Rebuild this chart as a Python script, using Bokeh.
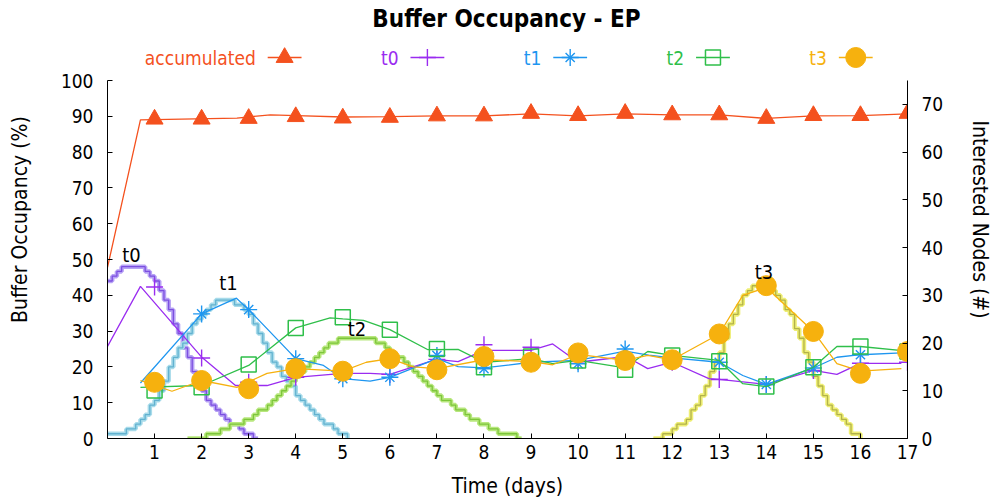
from bokeh.plotting import figure
from bokeh.models import Range1d, LinearAxis, FixedTicker
from bokeh.core.properties import value
from bokeh.embed import file_html
from bokeh.resources import INLINE

# ---------------- data ----------------
days = list(range(1, 18))
x_ticks = list(range(1, 18))
left_ticks = list(range(0, 101, 10))
right_ticks = list(range(0, 71, 10))

# markers (daily values, % buffer occupancy)
acc_marks = [89.2, 89.2, 89.4, 89.9, 89.5, 89.7, 90.1, 90.1, 90.8, 90.2, 90.8, 90.4, 90.4, 89.4, 90.2, 90.2, 90.8]
t0_marks = [42.3, 22.5, 15.7, 17.1, 18.3, 17.9, 22.1, 26.2, 25.5, 21.5, 22.5, 21.3, 16.5, 15.1, 19.0, 21.0, 21.3]
t1_marks = [15.5, 34.8, 36.0, 22.3, 16.7, 17.1, 23.2, 19.5, 21.3, 20.9, 25.0, 21.5, 21.3, 15.1, 19.7, 23.4, 24.3]
t2_marks = [13.4, 14.3, 20.7, 30.9, 33.9, 30.4, 25.0, 19.9, 22.9, 21.8, 19.2, 23.2, 21.6, 14.5, 19.9, 25.7, 24.3]
t3_marks = [15.7, 16.2, 13.9, 19.5, 18.8, 22.3, 19.2, 22.9, 21.3, 23.9, 21.8, 22.0, 29.2, 42.7, 29.9, 18.2, 24.3]

# lines (sampled series, % buffer occupancy)
acc_line_x = [0, 0.70, 2.75, 3.46, 4.02, 5.0, 6.0, 7.0, 8.0, 9.0, 10.0, 11.0, 12.0, 13.0, 14.0, 15.0, 16.0, 17.0]
acc_line_y = [47.8, 89.0, 89.5, 90.4, 90.2, 89.8, 89.9, 90.1, 90.1, 90.7, 90.1, 90.7, 90.4, 90.4, 89.4, 90.1, 90.2, 90.7]

t0_line_x = [0, 0.70, 2.01, 2.72, 3.39, 4.0, 5.0, 5.58, 6.0, 6.99, 7.45, 8.0, 9.0, 9.46, 10.0, 11.02, 11.48, 12.0, 12.78, 13.0, 14.0, 15.0, 15.5, 16.0, 16.87]
t0_line_y = [25.7, 42.5, 22.6, 14.8, 14.8, 17.1, 18.2, 18.2, 17.9, 22.1, 21.5, 24.6, 24.6, 26.4, 21.3, 22.9, 19.5, 21.3, 16.7, 16.5, 15.1, 19.0, 17.9, 21.0, 21.0]

t1_line_x = [0.70, 2.0, 2.74, 3.0, 4.0, 4.59, 5.0, 5.58, 6.0, 7.0, 7.45, 8.0, 9.0, 10.0, 11.0, 11.5, 12.0, 13.0, 13.5, 14.0, 15.0, 15.5, 16.0, 16.87]
t1_line_y = [15.5, 34.8, 39.2, 36.0, 22.3, 20.4, 16.7, 16.0, 17.1, 22.3, 20.1, 19.7, 21.3, 21.8, 24.4, 23.3, 22.5, 21.3, 17.6, 15.1, 19.7, 22.7, 23.4, 23.9]

t2_line_x = [0.70, 2.0, 3.0, 4.0, 4.73, 5.0, 5.44, 6.0, 6.81, 7.45, 8.0, 9.0, 9.46, 10.0, 11.0, 11.48, 12.0, 13.0, 13.5, 14.0, 15.0, 15.5, 16.0, 17.0]
t2_line_y = [14.3, 14.8, 20.4, 30.9, 33.7, 33.4, 33.0, 30.4, 24.8, 24.9, 21.3, 22.3, 20.9, 21.8, 19.7, 24.3, 23.2, 21.8, 15.3, 14.5, 19.9, 25.7, 25.7, 24.4]

t3_line_x = [0.70, 1.37, 2.0, 2.75, 3.39, 4.0, 5.0, 5.5, 6.0, 6.5, 7.0, 8.0, 9.0, 9.46, 10.0, 11.0, 11.48, 12.0, 13.0, 13.5, 14.0, 15.0, 15.5, 16.0, 16.87]
t3_line_y = [16.2, 13.2, 16.2, 14.3, 18.2, 19.5, 18.8, 21.3, 22.3, 20.0, 19.5, 22.0, 21.5, 20.6, 23.5, 21.8, 23.2, 22.0, 29.2, 40.0, 42.2, 29.9, 20.9, 18.8, 19.5]

# interested nodes (#), staircase counts every 0.1 day from a start day
step_dt = 0.1
t0_nodes_start = 0.0
t0_nodes = [33, 34, 35, 36, 36, 36, 36, 36, 35, 34, 33, 31, 29, 27, 24, 22, 19, 17, 14, 12,
            10, 8, 7, 6, 5, 4, 3, 3, 2, 1, 1, 0, 0]
t1_nodes_start = 0.0
t1_nodes = [1, 1, 1, 1, 2, 2, 3, 4, 5, 7, 8, 10, 12, 15, 17, 19, 20, 22, 24, 25,
            26, 27, 28, 29, 29, 29, 29, 28, 28, 27, 26, 24, 22, 20, 18, 16, 15, 13, 12, 11,
            9, 8, 7, 6, 5, 4, 3, 3, 2, 1, 1, 0]
t2_nodes_start = 1.7
t2_nodes = [0, 0, 0, 0, 1, 1, 1, 2, 2, 3, 3, 3, 4, 4, 5, 6, 6, 7, 8, 9,
            10, 11, 12, 13, 14, 15, 16, 17, 18, 19, 20, 20, 21, 21, 21, 21, 21, 21, 21, 21,
            20, 20, 19, 18, 17, 17, 16, 15, 14, 13, 12, 11, 10, 9, 8, 8, 7, 6, 6, 5,
            4, 4, 3, 3, 2, 2, 1, 1, 1, 1, 0, 0]
t3_nodes_start = 11.6
t3_nodes = [0, 0, 1, 1, 2, 3, 3, 4, 6, 7, 9, 11, 14, 16, 18, 21, 24, 26, 28, 30,
            31, 32, 32, 32, 32, 31, 30, 29, 27, 26, 23, 21, 18, 16, 13, 11, 9, 7, 6, 5,
            4, 3, 1, 1, 0]

peak_labels = ["t0", "t1", "t2", "t3"]
peak_label_x = [0.51, 2.57, 5.30, 13.95]
peak_label_y = [38.5, 32.5, 23.0, 34.8]  # right axis units

series_names = ["accumulated", "t0", "t1", "t2", "t3"]

# ---------------- styling ----------------
FONT = "DejaVu Sans Condensed"
C_ACC = "#f4511e"
C_T0 = "#9a2cf0"
C_T1 = "#1e96f0"
C_T2 = "#2fbf4a"
C_T3 = "#f6b10e"
STEP_LIGHT = ["#b7a2f5", "#a8dbea", "#b8e77e", "#eeee74"]
STEP_DARK = ["#7c4fe0", "#62b2d0", "#7cc63a", "#b2b24a"]

W, H = 995, 503
FL, FR, FB, FT = 107, 84, 65, 0
frame_w = W - FL - FR
frame_h = H - FB - FT
X_MAX = 17.0
PX_PER_PCT = 3.58
PX_PER_NODE = 4.773
Y_TOP = frame_h / PX_PER_PCT
Y2_TOP = frame_h / PX_PER_NODE

p = figure(width=W, height=H, output_backend="svg", toolbar_location=None,
           x_range=Range1d(0, X_MAX), y_range=Range1d(0, Y_TOP),
           min_border_left=FL, min_border_right=FR, min_border_bottom=FB, min_border_top=FT,
           title=None)
p.extra_y_ranges = {"right": Range1d(0, Y2_TOP)}
p.xgrid.visible = False
p.ygrid.visible = False
p.outline_line_color = None
p.background_fill_color = "white"
p.border_fill_color = "white"


def style_axis(ax, ticks, label):
    ax.ticker = FixedTicker(ticks=ticks)
    ax.axis_label = label
    ax.axis_label_text_font = FONT
    ax.axis_label_text_font_size = "21px"
    ax.axis_label_text_font_style = "normal"
    ax.axis_label_text_color = "black"
    ax.major_label_text_font = FONT
    ax.major_label_text_font_size = "19px"
    ax.major_label_text_color = "black"
    ax.major_tick_in = 5
    ax.major_tick_out = 0
    ax.minor_tick_line_color = None
    ax.axis_line_color = "black"
    ax.major_tick_line_color = "black"


xa = p.xaxis[0]
style_axis(xa, x_ticks, "Time (days)")
xa.major_label_standoff = 6
xa.axis_label_standoff = 12

ya = p.yaxis[0]
style_axis(ya, left_ticks, "Buffer Occupancy (%)")
ya.bounds = (0, 100)
ya.major_label_standoff = 14
ya.axis_label_standoff = 26

ra = LinearAxis(y_range_name="right")
style_axis(ra, right_ticks, "Interested Nodes (#)")
ra.bounds = (0, 75)
ra.major_label_standoff = 14
ra.axis_label_standoff = 22
p.add_layout(ra, "right")

# ---------------- step curves (right axis) ----------------
for i, (start, vals) in enumerate([(t0_nodes_start, t0_nodes), (t1_nodes_start, t1_nodes),
                                   (t2_nodes_start, t2_nodes), (t3_nodes_start, t3_nodes)]):
    xs = [start + step_dt * k for k in range(len(vals))]
    p.step(xs, vals, mode="after", y_range_name="right", line_color=STEP_LIGHT[i], line_width=4.5)
    p.step(xs, vals, mode="after", y_range_name="right", line_color=STEP_DARK[i], line_width=1.3)


def draw_markers(kind, xs, ys, color):
    if kind == "triangle":
        p.scatter(xs, ys, marker="triangle", size=17, fill_color=color, line_color=color)
    elif kind == "cross":
        p.scatter(xs, ys, marker="cross", size=17, line_color=color, line_width=1.4)
    elif kind == "asterisk":
        p.scatter(xs, ys, marker="cross", size=17, line_color=color, line_width=1.4)
        p.scatter(xs, ys, marker="x", size=13, line_color=color, line_width=1.4)
    elif kind == "square":
        p.scatter(xs, ys, marker="square", size=15, fill_color=None, line_color=color, line_width=1.5)
    elif kind == "circle":
        p.scatter(xs, ys, marker="circle", size=20, fill_color=color, line_color=color)


specs = [
    (acc_line_x, acc_line_y, acc_marks, C_ACC, "triangle"),
    (t0_line_x, t0_line_y, t0_marks, C_T0, "cross"),
    (t1_line_x, t1_line_y, t1_marks, C_T1, "asterisk"),
    (t2_line_x, t2_line_y, t2_marks, C_T2, "square"),
    (t3_line_x, t3_line_y, t3_marks, C_T3, "circle"),
]
for lx, ly, mk, col, kind in specs:
    p.line(lx, ly, line_color=col, line_width=1.3)
    draw_markers(kind, days, mk, col)

# peak labels
p.text(peak_label_x, peak_label_y, text=peak_labels, y_range_name="right",
       text_font=value(FONT), text_font_size=value("20px"), text_color="black",
       text_align="center", text_baseline="middle")


# ---------------- legend & title (drawn in the empty top band) ----------------
def px_x(px):
    return (px - FL) * X_MAX / frame_w


def px_y(py):
    return (FT + frame_h - py) / PX_PER_PCT


leg_y = px_y(57)
for i, (name, (lx, ly, mk, col, kind)) in enumerate(zip(series_names, specs)):
    tr = 256 + 143.5 * i
    p.text([px_x(tr)], [leg_y], text=[name], text_font=value(FONT), text_font_size=value("19px"),
           text_color=col, text_align="right", text_baseline="middle")
    p.line([px_x(tr + 12), px_x(tr + 46)], [leg_y, leg_y], line_color=col, line_width=1.3)
    draw_markers(kind, [px_x(tr + 29)], [leg_y], col)

p.text([px_x(508)], [px_y(18)], text=["Buffer Occupancy - EP"], text_font=value(FONT),
       text_font_size=value("24px"), text_font_style="bold", text_color="black",
       text_align="center", text_baseline="middle")

open("out.html", "w").write(file_html(p, INLINE))
